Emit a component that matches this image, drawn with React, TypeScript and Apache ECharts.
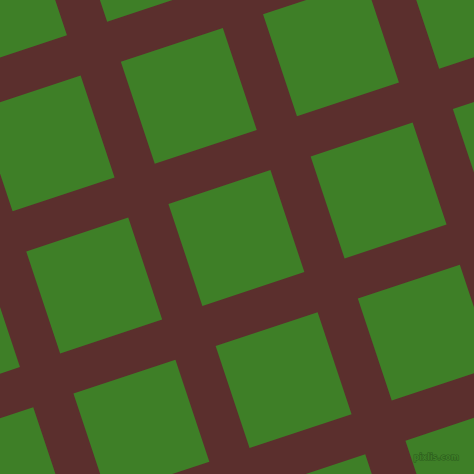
import { useEffect, useRef } from "react";
import * as echarts from "echarts";

const BROWN = "#5B2F2D";
const GREEN = "#3E7F27";

// centres of the green squares (pixel units of a 474 box)
const squareX = [
  141.2, -1.0,
  46.6, 188.8, 331.0, 473.2,
  -48.0, 94.2, 236.4, 378.6, 520.8,
  -0.8, 141.4, 283.6, 425.8,
  331.2, 473.4,
];
const squareY = [
  -46.2, 1.3,
  143.4, 95.9, 48.4, 0.9,
  333.0, 285.5, 238.0, 190.5, 143.0,
  475.1, 427.6, 380.1, 332.6,
  522.2, 474.7,
];
const SIDE = 107.5;
const TILT = 18.4;

export default function App() {
  const ref = useRef<HTMLDivElement>(null);

  useEffect(() => {
    if (!ref.current) return;
    const chart = echarts.init(ref.current, null, { renderer: "svg" });

    chart.setOption({
      animation: false,
      backgroundColor: BROWN,
      title: {
        text: "pixlis.com",
        right: 14,
        bottom: 12,
        padding: 0,
        textStyle: {
          fontFamily: "DejaVu Sans",
          fontSize: 8,
          fontWeight: "bold",
          color: GREEN,
          textBorderColor: "#2B5A1C",
          textBorderWidth: 1,
        },
      },
      grid: { left: 0, right: 0, top: 0, bottom: 0 },
      xAxis: { type: "value", min: 0, max: 474, show: false },
      yAxis: { type: "value", min: 0, max: 474, inverse: true, show: false },
      series: [
        {
          type: "scatter",
          clip: false,
          symbol: "rect",
          symbolSize: SIDE,
          symbolRotate: TILT,
          itemStyle: { color: GREEN, opacity: 1 },
          silent: true,
          data: squareX.map((x, i) => [x, squareY[i]]),
          z: 1,
        },
      ],
    });

    return () => chart.dispose();
  }, []);

  return <div ref={ref} style={{ position: "fixed", left: 0, top: 0, width: 474, height: 474 }} />;
}
